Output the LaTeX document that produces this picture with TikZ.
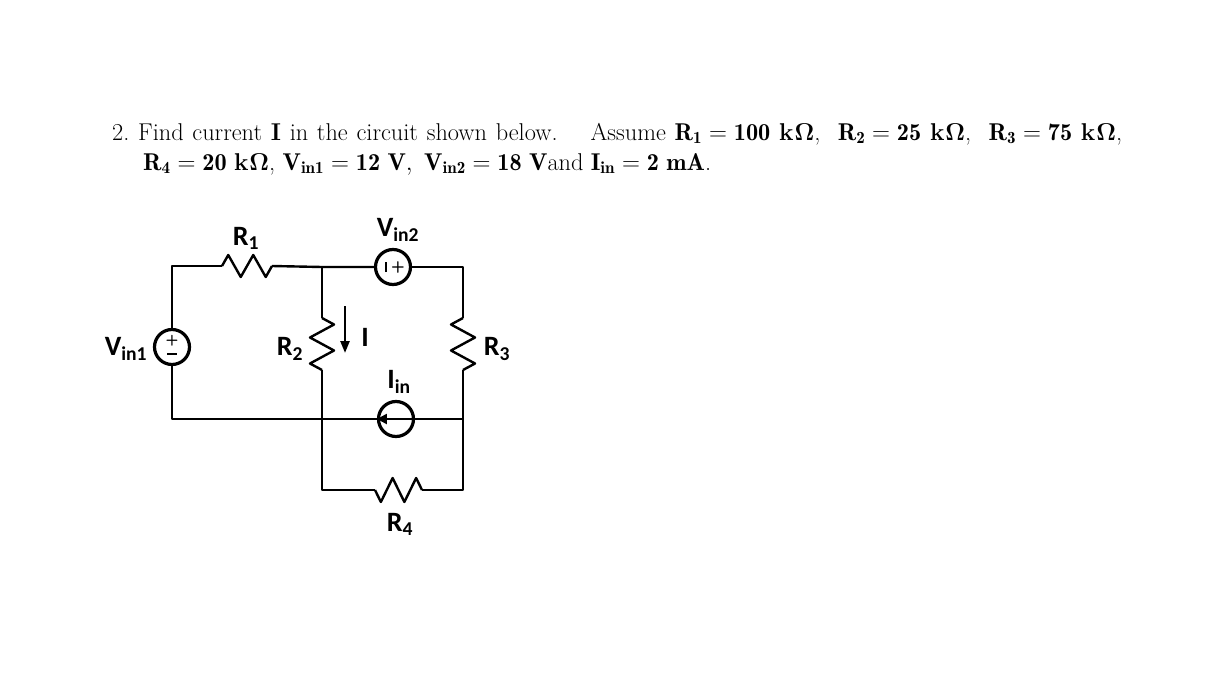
\documentclass[tikz,border=0pt]{standalone}
\usepackage{fontspec}
\newfontfamily\lblfont{Carlito}
\usetikzlibrary{arrows.meta, positioning, calc}
% zigzag resistor between two points, amplitude a
\newcommand{\reszig}[3]{% from, to, amplitude vector
  \draw[wire] #1 -- ($#1!0.125!#2 + #3$) -- ($#1!0.375!#2 - #3$) -- ($#1!0.625!#2 + #3$) -- ($#1!0.875!#2 - #3$) -- #2;}
\newcommand{\kohm}{\textbf{k\kern1pt Ω}}
\begin{document}
\begin{tikzpicture}[x=1pt, y=-1pt,
    wire/.style={line width=2.4pt, line join=round},
    src/.style={circle, draw, line width=3.2pt, minimum size=35pt, inner sep=0pt},
    lbl/.style={font=\lblfont\bfseries\fontsize{28}{28}\selectfont, inner sep=0pt},
    txt/.style={anchor=base west, inner sep=0pt, font=\fontsize{24.3}{28}\selectfont}]
    \useasboundingbox (0,0) rectangle (1228,698);

    % problem text
    \node[txt] (line1) at (112,140) {\makebox[1010pt][s]{2.~Find current \textbf{I} in the circuit shown below.\quad\ Assume $\mathbf{R_1=100}$~\kohm, \ $\mathbf{R_2=25}$~\kohm, \ $\mathbf{R_3=75}$~\kohm,}};
    \node[txt] (line2) at (143,170) {$\mathbf{R_4=20}$~\kohm,\ $\mathbf{V_{in1}=12\ V},\ \mathbf{V_{in2}=18\ V}$and $\mathbf{I_{in}=2\ mA}$.};

    % corners and junctions
    \coordinate (tl) at (172,266);
    \coordinate (bl) at (172,419);
    \coordinate (tm) at (322,267);
    \coordinate (tr) at (463,267);
    \coordinate (mr) at (463,419);
    \coordinate (bm) at (322,490);
    \coordinate (br) at (463,490);

    % sources
    \node[src] (vin1) at (172,347) {};
    \node[src] (vin2) at (393,267) {};
    \node[src] (iin) at (396,419) {};
    \node[font=\sffamily\bfseries\fontsize{15}{15}\selectfont, inner sep=0pt] at ([yshift=6pt]vin1.center) {+};
    \draw[line width=2.2pt] ([xshift=-5pt,yshift=-7pt]vin1.center) -- ([xshift=5pt,yshift=-7pt]vin1.center);
    \draw[line width=2.2pt] ([xshift=-7pt,yshift=-5pt]vin2.center) -- ([xshift=-7pt,yshift=5pt]vin2.center);
    \node[font=\sffamily\bfseries\fontsize{16}{16}\selectfont, inner sep=0pt] at ([xshift=5pt]vin2.center) {+};
    \draw[line width=2.2pt, -{Triangle[length=10pt,width=10pt]}] (iin.east) -- (iin.west);

    % wires
    \draw[wire] (vin1.north) -- (tl) -- (222,266);
    \reszig{(222,266)}{(272,266)}{(0,-11)}
    \draw[wire] (272,266) -- (tm) -- (vin2.west);
    \draw[wire] (vin2.east) -- (tr) -- (463,318);
    \reszig{(463,318)}{(463,370)}{(-12,0)}
    \draw[wire] (463,370) -- (mr) -- (br) -- (422,490);
    \reszig{(422,490)}{(375,490)}{(0,-12)}
    \draw[wire] (375,490) -- (bm) -- (322,370);
    \reszig{(322,370)}{(322,318)}{(-12,0)}
    \draw[wire] (322,318) -- (tm);
    \draw[wire] (vin1.south) -- (bl) -- (iin.west);
    \draw[wire] (iin.east) -- (mr);

    % current arrow
    \coordinate (ia) at (345,306);
    \coordinate (ib) at (345,353);
    \draw[line width=2.4pt, -{Triangle[length=12pt,width=9pt]}] (ia) -- (ib);

    % labels
    \node[lbl] (lr1) at (246,238) {R\textsubscript{1}};
    \node[lbl] (lvin2) at (398,230) {V\textsubscript{in2}};
    \node[lbl] (lvin1) at (126,349) {V\textsubscript{in1}};
    \node[lbl] (lr2) at (290,349) {R\textsubscript{2}};
    \node[lbl] (lr3) at (497,349) {R\textsubscript{3}};
    \node[lbl] (li) at (365,337) {I};
    \node[lbl] (liin) at (399,382) {I\textsubscript{in}};
    \node[lbl] (lr4) at (400,524) {R\textsubscript{4}};
\end{tikzpicture}
\end{document}
